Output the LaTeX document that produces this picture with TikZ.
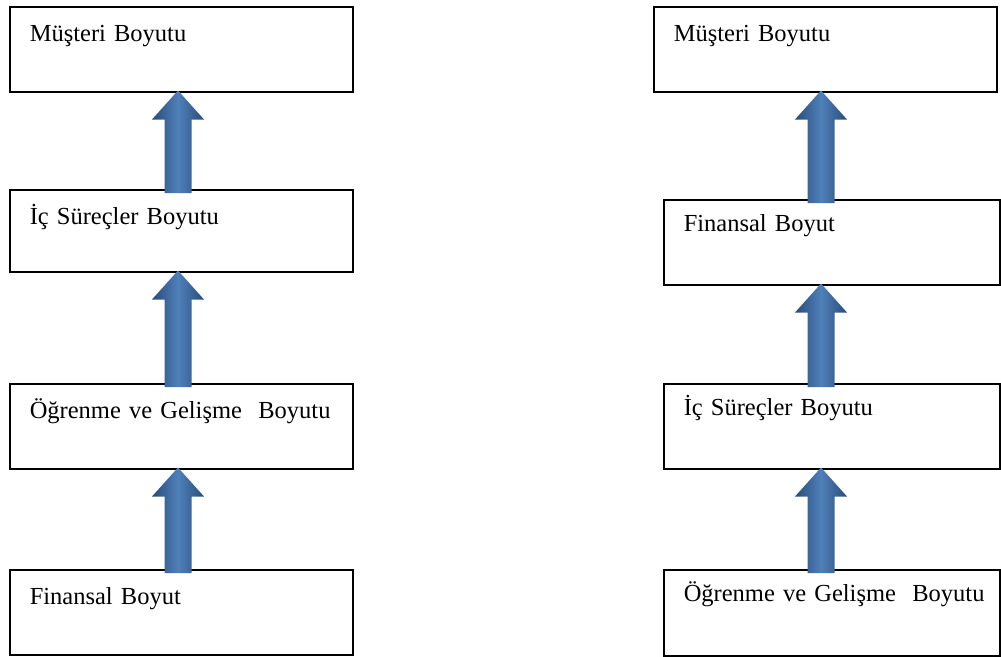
\documentclass[tikz,border=0pt]{standalone}
\usepackage{fontspec}
\setmainfont{Liberation Serif}
\newfontfamily\boxfont{Liberation Serif}
\usetikzlibrary{calc}

\definecolor{arrowdark}{RGB}{40,76,122}
\definecolor{arrowlight}{RGB}{80,128,186}

% block arrow from the top of the lower box up to the bottom of the upper box
\newcommand{\blockup}[3]{%
  \coordinate (b) at ($(#1 |- #2.north)+(0,4)$);
  \coordinate (t) at ($(#1 |- #3.south)+(0,-2)$);
  \shade[left color=arrowdark, right color=arrowdark, middle color=arrowlight]
    ($(b)+(-13.5,0)$) -- ($(t)+(-13.5,29)$) -- ($(t)+(-26,29)$) -- (t)
    -- ($(t)+(26,29)$) -- ($(t)+(13.5,29)$) -- ($(b)+(13.5,0)$) -- cycle;
}

\begin{document}
\begin{tikzpicture}[x=1pt, y=-1pt,
    box/.style={draw, line width=1.5pt, anchor=north west, align=left,
      inner xsep=20pt, inner ysep=0pt, text width=#1,
      text height=35pt, text depth=50pt,
      font=\boxfont\fontsize{24.5}{30}\selectfont}]
    \useasboundingbox (0,0) rectangle (1001,656);
    % left column
    \node [box=303pt] (lmus) at (9,6) {Müşteri Boyutu};
    \node [box=303pt, text depth=47pt] (lic) at (9,189) {İç Süreçler Boyutu};
    \node [box=303pt] (logr) at (9,383) {\mbox{Öğrenme ve Gelişme\ \ Boyutu}};
    \node [box=303pt] (lfin) at (9,569) {Finansal Boyut};
    % right column
    \node [box=303pt] (rmus) at (653,6) {Müşteri Boyutu};
    \node [box=296pt, text height=32pt, text depth=53pt] (rfin) at (663,199) {Finansal Boyut};
    \node [box=296pt, text height=32pt, text depth=53pt] (ric) at (663,383) {İç Süreçler Boyutu};
    \node [box=296pt, text height=32pt, text depth=54pt] (rogr) at (663,569) {\mbox{Öğrenme ve Gelişme\ \ Boyutu}};
    \coordinate (colL) at (178,0);
    \coordinate (colR) at (821,0);
    \blockup{colL}{lic}{lmus}
    \blockup{colL}{logr}{lic}
    \blockup{colL}{lfin}{logr}
    \blockup{colR}{rfin}{rmus}
    \blockup{colR}{ric}{rfin}
    \blockup{colR}{rogr}{ric}
\end{tikzpicture}
\end{document}
